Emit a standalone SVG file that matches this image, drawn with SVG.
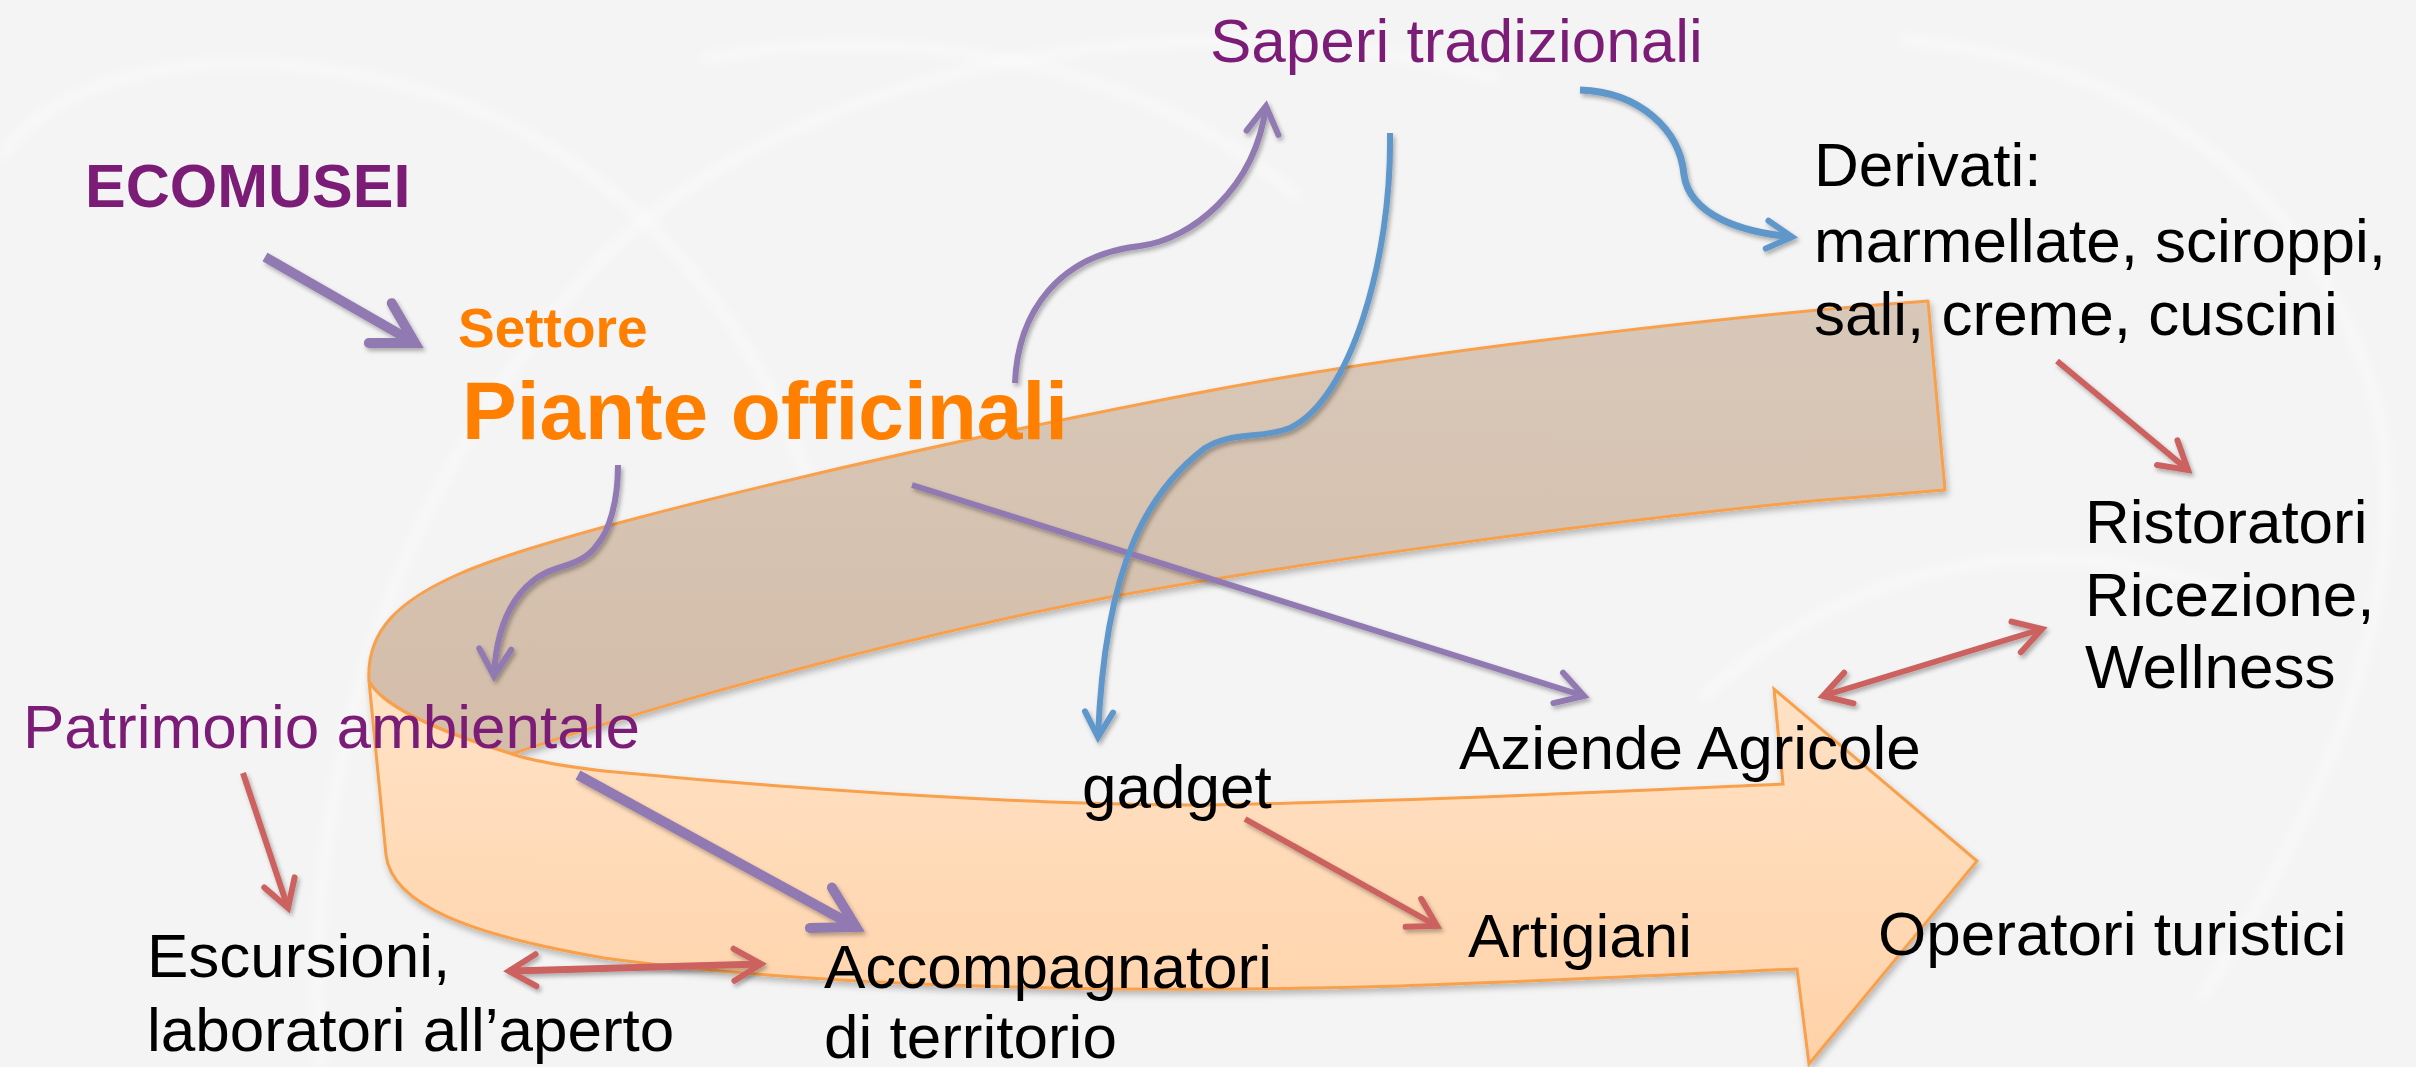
<svg xmlns="http://www.w3.org/2000/svg" width="2416" height="1067" viewBox="0 0 2416 1067">
<style>
.lbl{font-family:"Liberation Sans",Arial,sans-serif;font-size:62px;fill:#000}
.pur{fill:#7B1C76}
.org{fill:#FF7F00;font-weight:bold}
.ln{fill:none;stroke-linecap:butt;stroke-linejoin:round}
.lp{stroke:#9179B2;stroke-width:6}
.lpt{stroke:#9179B2;stroke-width:10}
.lb{stroke:#6097CB;stroke-width:6}
.lr{stroke:#CB625F;stroke-width:6}
.swirl{fill:none;stroke:#ffffff;stroke-width:16;opacity:0.3}
</style>
<defs>
<filter id="sh" x="-20%" y="-20%" width="140%" height="140%">
<feDropShadow dx="2" dy="3" stdDeviation="2" flood-color="#000" flood-opacity="0.3"/>
</filter>
<filter id="shR" x="-10%" y="-10%" width="120%" height="130%">
<feDropShadow dx="2" dy="4" stdDeviation="3" flood-color="#000" flood-opacity="0.25"/>
</filter>
<filter id="blur"><feGaussianBlur stdDeviation="5"/></filter>
<linearGradient id="gBrown" x1="0" y1="0" x2="0" y2="1">
<stop offset="0" stop-color="#D8C8B9"/><stop offset="1" stop-color="#D4BDA9"/>
</linearGradient>
<linearGradient id="gOrange" x1="0" y1="0" x2="0" y2="1">
<stop offset="0" stop-color="#FFE2C6"/><stop offset="1" stop-color="#FFD2A8"/>
</linearGradient>
<marker id="mP" markerUnits="userSpaceOnUse" orient="auto-start-reverse" refX="0" refY="0" style="overflow:visible">
<path d="M-27,-16 L0,0 L-27,16" fill="none" stroke="#9179B2" stroke-width="6" stroke-linecap="round" stroke-miterlimit="10"/>
</marker>
<marker id="mPT" markerUnits="userSpaceOnUse" orient="auto-start-reverse" refX="0" refY="0" style="overflow:visible">
<path d="M-40,-23 L0,0 L-40,23" fill="none" stroke="#9179B2" stroke-width="10" stroke-linecap="round" stroke-miterlimit="10"/>
</marker>
<marker id="mB" markerUnits="userSpaceOnUse" orient="auto-start-reverse" refX="0" refY="0" style="overflow:visible">
<path d="M-25,-14 L0,0 L-25,14" fill="none" stroke="#6097CB" stroke-width="6" stroke-linecap="round" stroke-miterlimit="10"/>
</marker>
<marker id="mR" markerUnits="userSpaceOnUse" orient="auto-start-reverse" refX="0" refY="0" style="overflow:visible">
<path d="M-27,-16 L0,0 L-27,16" fill="none" stroke="#CB625F" stroke-width="6" stroke-linecap="round" stroke-miterlimit="10"/>
</marker>
</defs>

<rect x="0" y="0" width="2416" height="1067" fill="#F4F4F4"/>
<g id="background-swirls" filter="url(#blur)">
<path class="swirl" d="M0,160 C60,60 250,40 420,90 C600,140 760,300 820,520"/>
<path class="swirl" d="M320,1067 C300,800 380,500 600,260 C800,60 1200,-10 1500,80"/>
<path class="swirl" d="M700,60 C900,20 1150,60 1300,200"/>
<path class="swirl" d="M1900,40 C2150,60 2330,200 2380,420 C2410,600 2330,800 2200,1000"/>
<path class="swirl" d="M1700,700 C1850,560 2050,520 2250,600"/>
</g>

<g id="ribbon" filter="url(#shR)">
<path id="ribbon-back" d="M369,681 C366,630 400,600 459,574 C560,530 900,450 1208,391 C1448,345 1800,310 1928,301 L1945,490 L1812,501 C1600,522 1300,562 1105,598 C950,628 700,690 512,754 C460,738 385,712 369,681 Z" fill="url(#gBrown)" stroke="#F8A04B" stroke-width="3" stroke-linejoin="round"/>
<path id="ribbon-front" d="M369,681 L386,855 C392,905 470,935 604,958 C800,985 1100,995 1401,986 C1550,981 1700,973 1797,969 L1809,1064 L1977,861 L1774,689 L1783,784 C1650,790 1450,800 1208,805 C1000,805 750,785 604,771 C560,766 530,760 512,754 C460,738 385,712 369,681 Z" fill="url(#gOrange)" stroke="#F8A04B" stroke-width="3" stroke-linejoin="miter"/>
</g>

<g id="connectors" filter="url(#sh)">
<path class="ln lpt" d="M265,257 L415,343" marker-end="url(#mPT)"/>
<path class="ln lp" d="M1015,383 C1018,310 1060,255 1140,246 C1190,240 1255,190 1266,106" marker-end="url(#mP)"/>
<path class="ln lp" d="M618,465 C618,500 610,530 597,545 C588,558 575,563 558,568 C525,578 497,610 494,676" marker-end="url(#mP)"/>
<path class="ln lp" d="M912,485 L1584,696" marker-end="url(#mP)"/>
<path class="ln lb" d="M1390,133 C1392,260 1350,400 1290,428 C1260,440 1235,430 1205,448 C1150,490 1105,560 1098,737" marker-end="url(#mB)"/>
<path class="ln lb" d="M1580,90 C1640,92 1680,130 1684,175 C1690,215 1740,232 1792,237" marker-end="url(#mB)" style="stroke-width:7"/>
<path class="ln lr" d="M2057,361 L2188,470" marker-end="url(#mR)"/>
<path class="ln lr" d="M243,773 L288,908" marker-end="url(#mR)"/>
<path class="ln lr" d="M509,971 L761,964" marker-start="url(#mR)" marker-end="url(#mR)" style="stroke-width:7"/>
<path class="ln lpt" d="M578,775 L856,927" marker-end="url(#mPT)"/>
<path class="ln lr" d="M1245,819 L1437,926" marker-end="url(#mR)"/>
<path class="ln lr" d="M1823,696 L2042,629" marker-start="url(#mR)" marker-end="url(#mR)"/>
</g>

<g id="node-ecomusei"><text class="lbl pur" x="85" y="207" style="font-size:61px;font-weight:bold">ECOMUSEI</text></g>
<g id="node-piante">
<text class="lbl org" x="458" y="347" style="font-size:55px">Settore</text>
<text class="lbl org" x="462" y="439" style="font-size:82px">Piante officinali</text>
</g>
<g id="node-saperi"><text class="lbl pur" x="1210" y="62">Saperi tradizionali</text></g>
<g id="node-derivati">
<text class="lbl" x="1814" y="186">Derivati:</text>
<text class="lbl" x="1814" y="262">marmellate, sciroppi,</text>
<text class="lbl" x="1814" y="335">sali, creme, cuscini</text>
</g>
<g id="node-ristoratori">
<text class="lbl" x="2085" y="543">Ristoratori</text>
<text class="lbl" x="2085" y="616">Ricezione,</text>
<text class="lbl" x="2085" y="688">Wellness</text>
</g>
<g id="node-patrimonio"><text class="lbl pur" x="23" y="748">Patrimonio ambientale</text></g>
<g id="node-escursioni">
<text class="lbl" x="147" y="977">Escursioni,</text>
<text class="lbl" x="147" y="1051">laboratori all’aperto</text>
</g>
<g id="node-accompagnatori">
<text class="lbl" x="824" y="988">Accompagnatori</text>
<text class="lbl" x="824" y="1058">di territorio</text>
</g>
<g id="node-gadget"><text class="lbl" x="1082" y="808">gadget</text></g>
<g id="node-aziende"><text class="lbl" x="1459" y="769">Aziende Agricole</text></g>
<g id="node-artigiani"><text class="lbl" x="1468" y="957">Artigiani</text></g>
<g id="node-operatori"><text class="lbl" x="1878" y="955">Operatori turistici</text></g>
</svg>
